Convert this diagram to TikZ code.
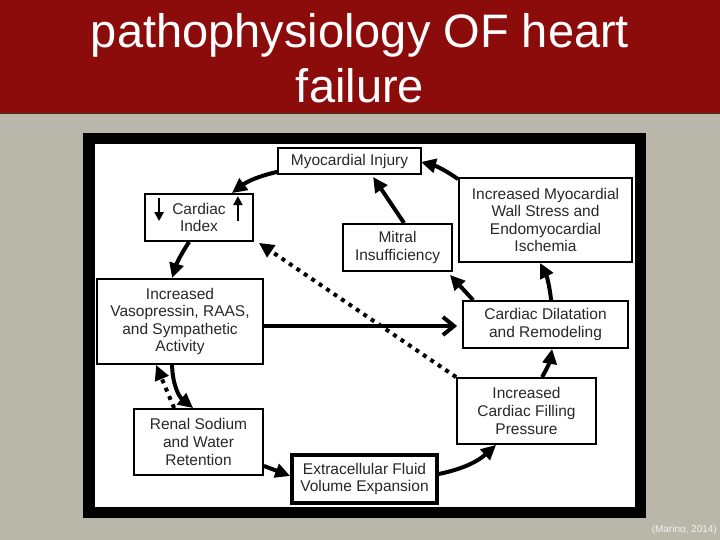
\documentclass[tikz,border=0pt]{standalone}
\usepackage{fontspec}
\setmainfont{Liberation Sans}
\usetikzlibrary{arrows.meta,calc}
\definecolor{titlered}{RGB}{140,12,12}
\definecolor{titleedge}{RGB}{105,30,25}
\definecolor{bggray}{RGB}{184,183,170}
\definecolor{boxtext}{RGB}{40,40,40}
\begin{document}
\begin{tikzpicture}[x=1pt,y=-1pt,
  box/.style={draw=black, line width=1.8pt, fill=white, inner sep=0pt, align=center,
    text=boxtext, font=\fontsize{15.5}{17.6}\selectfont},
  flow/.style={line width=4pt, -{Triangle[length=15pt,width=14pt]}},
  dotflow/.style={flow, dash pattern=on 4pt off 5pt},
  openflow/.style={line width=4pt, -{Straight Barb[length=11pt,width=18pt]}},
  small/.style={line width=2.4pt, -{Triangle[length=9pt,width=9pt]}}]
\useasboundingbox (0,0) rectangle (720,540);
% backgrounds
\fill[bggray] (0,0) rectangle (720,540);
\fill[titlered] (0,0) rectangle (720,113);
\draw[titleedge, line width=2pt] (0,113) -- (720,113);
\node[anchor=north, inner sep=0pt, align=center, text=white,
  font=\fontsize{47}{55}\selectfont] (title) at (360,13) {pathophysiology OF heart\\failure};
\node[anchor=base east, inner sep=0pt, text=white!95!black,
  font=\fontsize{10}{12}\selectfont] (cite) at (717,532) {(Marino, 2014)};
% frame
\fill[black] (83,133) rectangle (646,518);
\fill[white] (95,144) rectangle (635,507);
% boxes
\node[box, minimum width=143pt, minimum height=26pt] (inj) at (349.5,161) {Myocardial Injury};
\node[box, minimum width=108pt, minimum height=47pt] (ci) at (199,217.5) {Cardiac\\Index};
\node[box, minimum width=109pt, minimum height=47pt] (mit) at (397.5,247.5) {Mitral\\Insufficiency};
\node[box, minimum width=173pt, minimum height=84pt] (wall) at (545.5,220) {Increased Myocardial\\Wall Stress and\\Endomyocardial\\Ischemia};
\node[box, minimum width=165pt, minimum height=47pt] (dil) at (545.5,324.5) {Cardiac Dilatation\\and Remodeling};
\node[box, minimum width=139pt, minimum height=66pt] (fill) at (526.5,411) {Increased\\Cardiac Filling\\Pressure};
\node[box, line width=3.5pt, minimum width=145pt, minimum height=48pt] (ecf) at (364.5,479) {Extracellular Fluid\\Volume Expansion};
\node[box, minimum width=166pt, minimum height=85pt] (vaso) at (180,321.5) {Increased\\Vasopressin, RAAS,\\and Sympathetic\\Activity};
\node[box, minimum width=129pt, minimum height=66pt] (ren) at (198.5,442) {Renal Sodium\\and Water\\Retention};
% small arrows in cardiac index
\draw[small] ($(ci.north west)+(15,5)$) -- ($(ci.north west)+(15,28)$);
\draw[small] ($(ci.north east)+(-16,28)$) -- ($(ci.north east)+(-16,3)$);
% connectors
\draw[flow] ($(inj.south west)+(0,-3)$) to[bend right=12] ($(ci.north east)+(-22,0)$);
\draw[flow] ($(ci.south west)+(45,0)$) to[bend right=8] ($(vaso.north west)+(76,0)$);
\draw[openflow] ($(vaso.east)+(0,4.5)$) -- ($(dil.west)+(-5,1.5)$);
\draw[flow] ($(vaso.south west)+(76,0)$) to[bend right=25] ($(ren.north west)+(60,0)$);
\draw[dotflow] ($(ren.north west)+(41,0)$) -- ($(vaso.south west)+(60,0)$);
\draw[flow] ($(ren.south east)+(0,-10)$) -- ($(ecf.west)+(0,-3)$);
\draw[flow] ($(ecf.east)+(0,-5)$) to[bend right=15] ($(fill.south west)+(40,0)$);
\draw[flow] ($(fill.north west)+(86,0)$) to[bend right=10] ($(dil.south west)+(90,0)$);
\draw[dotflow] (fill.north west) -- ($(ci.south east)+(5,1)$);
\draw[flow] ($(dil.north west)+(11,0)$) -- ($(mit.south east)+(-3,3)$);
\draw[flow] ($(dil.north west)+(89,0)$) to[bend right=10] ($(wall.south west)+(82,0)$);
\draw[flow] ($(mit.north west)+(62,0)$) -- ($(inj.south west)+(96,2)$);
\draw[flow] ($(wall.north west)+(0,2)$) to[bend right=10] ($(inj.east)+(-1,1)$);
\end{tikzpicture}
\end{document}
